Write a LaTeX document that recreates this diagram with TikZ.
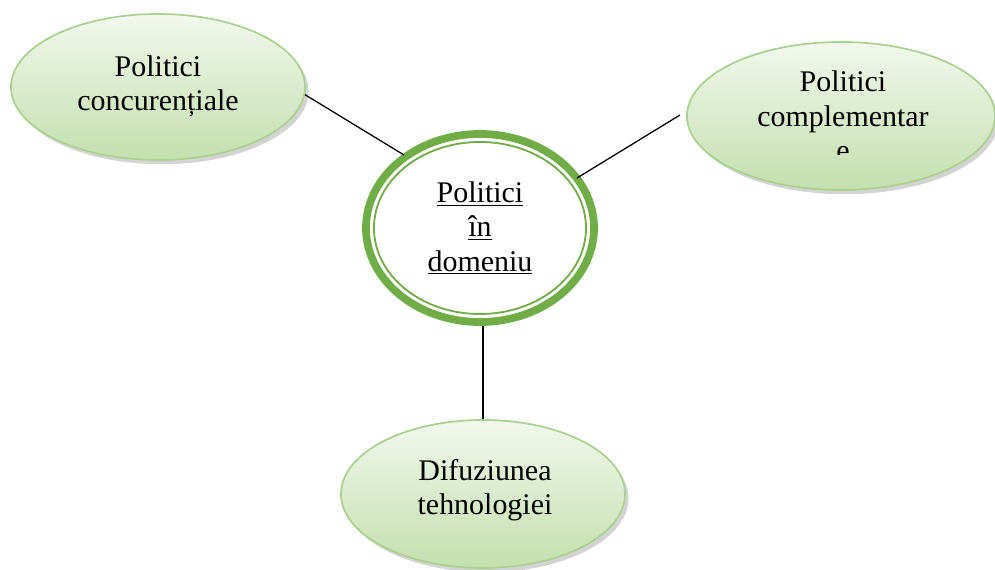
\documentclass[tikz,border=0pt]{standalone}
\usepackage{fontspec}
\setmainfont{Liberation Serif}
\usetikzlibrary{shapes.geometric,shadows}
\definecolor{ringgreen}{HTML}{70AD47}
\definecolor{edgegreen}{HTML}{A9D18E}
\definecolor{filltop}{HTML}{F2F8EC}
\definecolor{fillbot}{HTML}{C3DFAE}
\tikzset{
  bubble/.style={ellipse, draw=edgegreen, line width=1.2pt, top color=filltop, bottom color=fillbot,
    drop shadow={shadow xshift=2.5pt, shadow yshift=-3pt, opacity=0.35, fill=gray}},
  label/.style={align=center, font=\fontsize{21.3}{24.4}\selectfont, inner sep=0pt},
  link/.style={draw=black, line width=0.9pt}
}
\begin{document}
\begin{tikzpicture}[x=0.025cm, y=-0.025cm]
\useasboundingbox (0,0) rectangle (995,570);
% outer bubbles
\node[bubble, minimum width=7.35cm, minimum height=3.65cm] (left) at (158,87) {};
\node[label] (lefttxt) at (158,86) {Politici\\concurențiale};
\node[bubble, minimum width=7.7cm, minimum height=3.7cm] (right) at (841,116) {};
\begin{scope}
  \clip (680,40) rectangle (995,155);
  \node[label] (righttxt) at (843,116) {Politici\\complementar\\e};
\end{scope}
\node[bubble, minimum width=7.1cm, minimum height=3.7cm] (bottom) at (483,494) {};
\node[label] (bottomtxt) at (485,490) {Difuziunea\\tehnologiei};
% center ring
\node[ellipse, draw=ringgreen, line width=5.5pt, fill=white, minimum width=5.7cm, minimum height=4.7cm] (center) at (480,228) {};
\node[ellipse, draw=ringgreen, line width=1.3pt, minimum width=5.3cm, minimum height=4.3cm] (centerin) at (480,228) {};
\node[label] (centertxt) at (480,228) {\underline{Politici}\\\underline{în}\\\underline{domeniu}};
% connectors
\coordinate (l2) at (404,155);
\coordinate (r1) at (577,178);
\coordinate (r2) at (680,115);
\draw[link] (left.-3) -- (l2);
\draw[link] (r1) -- (r2);
\draw[link] (bottom.north |- center.south) -- (bottom.north);
\end{tikzpicture}
\end{document}
